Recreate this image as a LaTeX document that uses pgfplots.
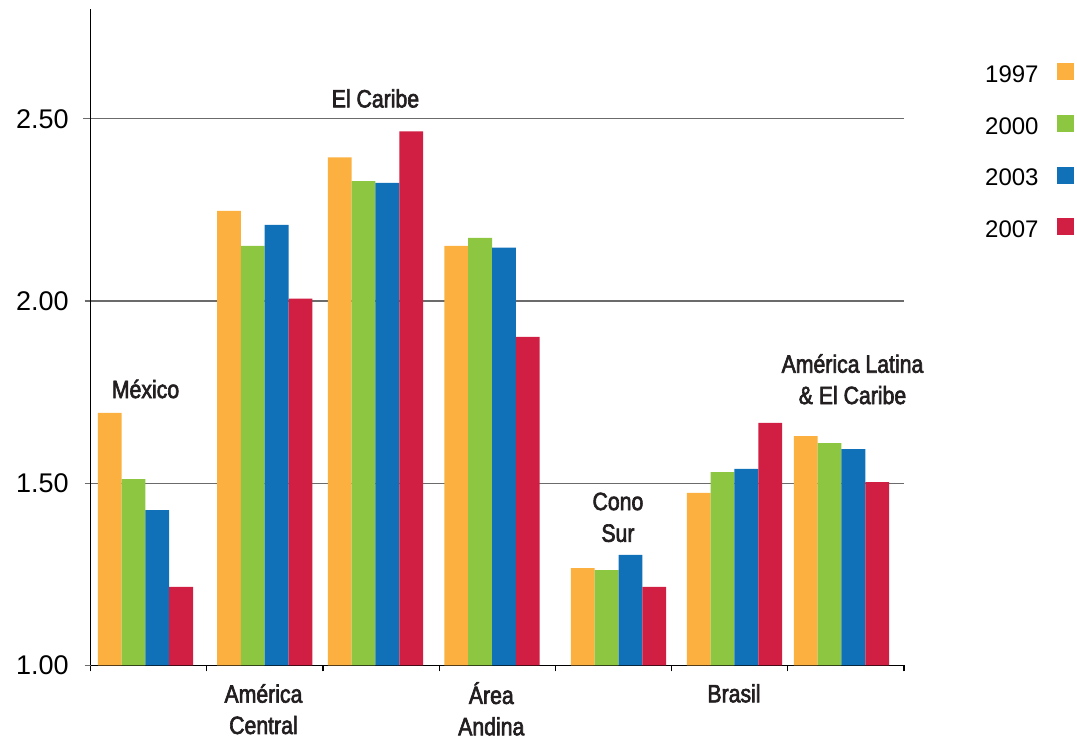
\documentclass[border=0pt]{standalone}
\usepackage{pgfplots}
\usepackage{pgfplotstable}
\pgfplotsset{compat=1.18}
\usepackage{fontspec}
\setmainfont{Liberation Sans}
\newfontfamily\condfont[FakeStretch=0.85,FakeBold=2.5]{Liberation Sans}

\definecolor{cOrange}{HTML}{FBB040}
\definecolor{cGreen}{HTML}{8DC641}
\definecolor{cBlue}{HTML}{1071B8}
\definecolor{cRed}{HTML}{D01F42}
\definecolor{txt}{HTML}{231F20}
\definecolor{gridgray}{HTML}{6B6B6B}

% group centre, then one column per year
\pgfplotstableread{
x     y97   y00   y03   y07
0.471 1.693 1.511 1.426 1.215
1.498 2.247 2.151 2.209 2.006
2.451 2.394 2.329 2.324 2.465
3.454 2.151 2.173 2.146 1.901
4.543 1.267 1.261 1.303 1.215
5.541 1.473 1.530 1.539 1.665
6.462 1.629 1.610 1.593 1.503
}\datatable

\newcommand{\lab}{\condfont\fontsize{12.5}{12.5}\selectfont\color{txt}}

\begin{document}
\begin{tikzpicture}
\begin{axis}[
  name=ax,
  at={(0,0)}, anchor=south west,
  scale only axis,
  width=406.65pt, height=327.95pt,
  xmin=0, xmax=7, ymin=1, ymax=2.8,
  axis lines=left,
  axis line style={-, black, line width=0.6pt},
  xtick={0,1,2,3,4,5,6,7},
  xticklabels={},
  ytick={1,1.5,2,2.5},
  yticklabel style={xshift=-4.5pt, /pgf/number format/.cd, fixed, fixed zerofill, precision=2},
  /pgf/number format/assume math mode=true,
  ticklabel style={font=\fontsize{13.5}{13.5}\selectfont, color=black},
  tick align=outside,
  major tick length=3pt,
  xtick style={black, line width=0.6pt},
  ytick style={gridgray, line width=0.6pt, shorten <=-0.75pt, shorten >=-0.75pt},
  ymajorgrids,
  grid style={gridgray, line width=0.6pt},
  ybar, bar width=11.9pt,
  clip mode=individual,
  legend plot pos=right,
  legend cell align=right,
  legend image code/.code={\fill[#1] (0pt,-2.3pt) rectangle (8.5pt,6.2pt);},
  legend style={
    at={(1.209,0.9187)}, anchor=north east,
    draw=none, fill=none, inner sep=0pt,
    row sep=14.75pt, column sep=9pt,
    nodes={inner sep=0pt, font=\fontsize{12}{12}\selectfont},
  },
]
\addplot[fill=cOrange, draw=none, bar shift=-17.85pt] table[x=x, y=y97] {\datatable};
\addplot[fill=cGreen,  draw=none, bar shift=-5.95pt]  table[x=x, y=y00] {\datatable};
\addplot[fill=cBlue,   draw=none, bar shift=5.95pt]   table[x=x, y=y03] {\datatable};
\addplot[fill=cRed,    draw=none, bar shift=17.85pt]  table[x=x, y=y07] {\datatable};
\legend{1997,2000,2003,2007}

% region names
\node[anchor=base, font=\lab] at (axis cs:0.472,1.7335) {México};
\node[anchor=base, font=\lab] at (axis cs:2.451,2.531) {El Caribe};
\node[anchor=base, font=\lab] at (axis cs:4.538,1.426) {Cono};
\node[anchor=base, font=\lab] at (axis cs:4.538,1.339) {Sur};
\node[anchor=base, font=\lab] at (axis cs:6.557,1.803) {América Latina};
\node[anchor=base, font=\lab] at (axis cs:6.557,1.717) {\& El Caribe};
\node[anchor=base, font=\lab] at (axis cs:1.487,0.8975) {América};
\node[anchor=base, font=\lab] at (axis cs:1.487,0.8115) {Central};
\node[anchor=base, font=\lab] at (axis cs:3.448,0.8940) {Área};
\node[anchor=base, font=\lab] at (axis cs:3.448,0.8080) {Andina};
\node[anchor=base, font=\lab] at (axis cs:5.537,0.8985) {Brasil};
\end{axis}
\pgfresetboundingbox
\useasboundingbox (-45.35pt,-36.85pt) rectangle (493.15pt,332.65pt);
\end{tikzpicture}
\end{document}
